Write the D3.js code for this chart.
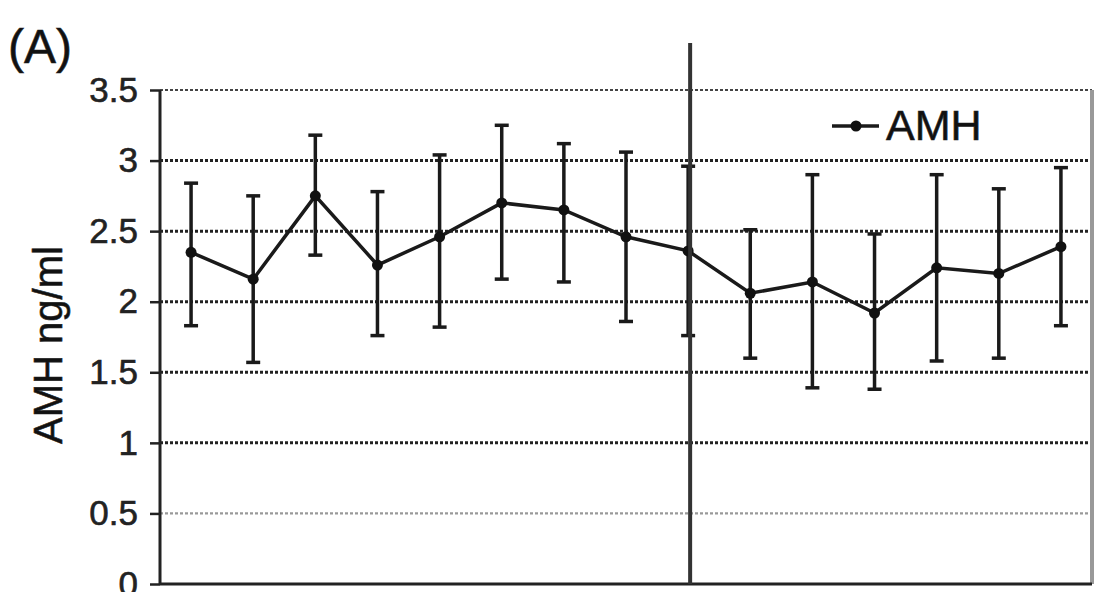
<!DOCTYPE html>
<html>
<head>
<meta charset="utf-8">
<script src="https://cdn.jsdelivr.net/npm/d3@7"></script>
<style>
  body { margin: 0; background: #fff; }
  svg { display: block; font-family: "Liberation Sans", Arial, sans-serif; }
  text { stroke: #222; stroke-width: 0.6px; }
</style>
</head>
<body>
<svg width="1114" height="592"></svg>
<script>
// sample index (x labels not visible in the scan)
let visits = ['1','2','3','4','5','6','7','8','9','10','11','12','13','14','15'];
let amhMean  = [2.35, 2.16, 2.75, 2.26, 2.46, 2.70, 2.65, 2.46, 2.36, 2.06, 2.14, 1.92, 2.24, 2.20, 2.39];
let amhUpper = [2.84, 2.75, 3.18, 2.78, 3.04, 3.25, 3.12, 3.06, 2.96, 2.51, 2.90, 2.48, 2.90, 2.80, 2.95];
let amhLower = [1.83, 1.57, 2.33, 1.76, 1.82, 2.16, 2.14, 1.86, 1.76, 1.60, 1.39, 1.38, 1.58, 1.60, 1.83];
let yTicks = [0, 0.5, 1, 1.5, 2, 2.5, 3, 3.5];
let markerVisit = '9';

let plotLeft = 160, plotRight = 1092, plotTop = 90, plotBottom = 584;

let svg = d3.select('svg');

let xScale = d3.scalePoint()
  .domain(visits)
  .range([plotLeft, plotRight])
  .padding(0.5);

let yScale = d3.scaleLinear()
  .domain([0, 3.5])
  .range([plotBottom, plotTop]);

// gridlines
svg.append('g')
  .selectAll('line')
  .data(yTicks.filter(d => d > 0))
  .enter()
  .append('line')
  .attr('x1', plotLeft)
  .attr('x2', plotRight)
  .attr('y1', d => yScale(d))
  .attr('y2', d => yScale(d))
  .attr('stroke', d => d == 0.5 ? '#999' : (d == 3.5 ? '#444' : '#222'))
  .attr('stroke-width', d => d == 3.5 || d == 0.5 ? 2.2 : 3)
  .attr('stroke-dasharray', '3,2');

// right border
svg.append('line')
  .attr('x1', plotRight).attr('x2', plotRight)
  .attr('y1', plotTop).attr('y2', plotBottom)
  .attr('stroke', '#999')
  .attr('stroke-width', 4);

// y axis
let yAxis = d3.axisLeft(yScale)
  .tickValues(yTicks)
  .tickSize(10)
  .tickPadding(12)
  .tickFormat(d => d);

let yg = svg.append('g')
  .attr('transform', `translate(${plotLeft},0)`)
  .call(yAxis);
yg.select('.domain').remove();
yg.selectAll('.tick line').attr('stroke', '#222').attr('stroke-width', 2.5);
yg.selectAll('.tick text')
  .attr('font-size', 35)
  .attr('fill', '#222')
  .attr('font-family', '"Liberation Sans", Arial, sans-serif');

svg.append('line')
  .attr('x1', plotLeft).attr('x2', plotLeft)
  .attr('y1', plotTop).attr('y2', plotBottom)
  .attr('stroke', '#222')
  .attr('stroke-width', 3);

svg.append('line')
  .attr('x1', plotLeft).attr('x2', plotRight)
  .attr('y1', plotBottom).attr('y2', plotBottom)
  .attr('stroke', '#222')
  .attr('stroke-width', 3);

// error bars
let errs = svg.append('g')
  .selectAll('g')
  .data(visits)
  .enter()
  .append('g');

errs.append('line')
  .attr('x1', d => xScale(d))
  .attr('x2', d => xScale(d))
  .attr('y1', (d, i) => yScale(amhUpper[i]))
  .attr('y2', (d, i) => yScale(amhLower[i]))
  .attr('stroke', '#1a1a1a')
  .attr('stroke-width', 3.5);

errs.selectAll('.cap')
  .data((d, i) => [[d, amhUpper[i]], [d, amhLower[i]]])
  .enter()
  .append('line')
  .attr('class', 'cap')
  .attr('x1', d => xScale(d[0]) - 7)
  .attr('x2', d => xScale(d[0]) + 7)
  .attr('y1', d => yScale(d[1]))
  .attr('y2', d => yScale(d[1]))
  .attr('stroke', '#1a1a1a')
  .attr('stroke-width', 3.5);

// mean line
let line = d3.line()
  .x((d, i) => xScale(visits[i]))
  .y(d => yScale(d));

svg.append('path')
  .datum(amhMean)
  .attr('d', line)
  .attr('fill', 'none')
  .attr('stroke', '#1a1a1a')
  .attr('stroke-width', 3.5);

svg.append('g')
  .selectAll('circle')
  .data(amhMean)
  .enter()
  .append('circle')
  .attr('cx', (d, i) => xScale(visits[i]))
  .attr('cy', d => yScale(d))
  .attr('r', 5.5)
  .attr('fill', '#111');

// vertical divider
svg.append('line')
  .attr('x1', xScale(markerVisit) + 2).attr('x2', xScale(markerVisit) + 2)
  .attr('y1', 43).attr('y2', plotBottom)
  .attr('stroke', '#333')
  .attr('stroke-width', 4);

// legend
svg.append('line')
  .attr('x1', 832).attr('x2', 879)
  .attr('y1', 126).attr('y2', 126)
  .attr('stroke', '#1a1a1a')
  .attr('stroke-width', 3.5);
svg.append('circle')
  .attr('cx', 856).attr('cy', 126).attr('r', 5.5)
  .attr('fill', '#111');
svg.append('text')
  .attr('x', 886)
  .attr('y', 140)
  .attr('font-size', 43)
  .attr('fill', '#111')
  .text('AMH');

// axis title
svg.append('text')
  .attr('transform', 'translate(62,345) rotate(-90)')
  .attr('text-anchor', 'middle')
  .attr('font-size', 40)
  .attr('fill', '#111')
  .text('AMH ng/ml');

// panel label
svg.append('text')
  .attr('x', 8)
  .attr('y', 63)
  .attr('font-size', 48)
  .attr('fill', '#111')
  .text('(A)');
</script>
</body>
</html>
